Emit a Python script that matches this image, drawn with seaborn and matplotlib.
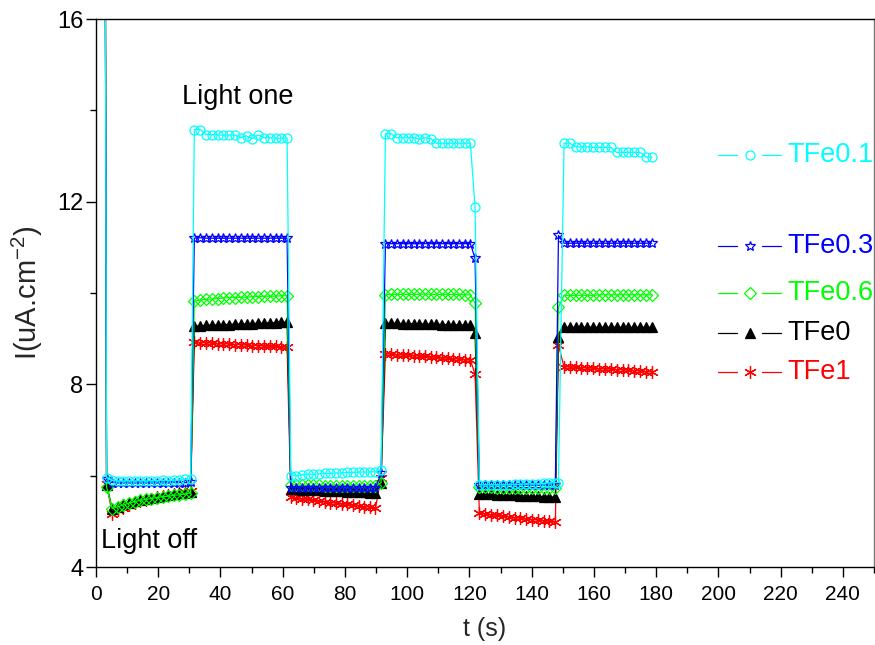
import numpy as np
import pandas as pd
import matplotlib
matplotlib.use("Agg")
import matplotlib.pyplot as plt
from matplotlib.ticker import MultipleLocator
import seaborn as sns

# Sampling times (s): initial transient, off / on / off / on / off / on cycles
t = [2.9,
     3.4, 5.2, 7.0, 8.8, 10.6, 12.4, 14.2, 16.0, 17.8, 19.6, 21.4, 23.2, 25.0, 26.8, 28.6, 30.4,
     31.6, 33.5, 35.3, 37.2, 39.1, 40.9, 42.8, 44.6, 46.5, 48.4, 50.2, 52.1, 53.9, 55.8, 57.7, 59.5, 61.4,
     62.6, 64.4, 66.2, 68.0, 69.8, 71.6, 73.5, 75.3, 77.1, 78.9, 80.7, 82.5, 84.4, 86.2, 88.0, 89.8, 91.6,
     93.0, 94.8, 96.6, 98.5, 100.3, 102.1, 103.9, 105.7, 107.6, 109.4, 111.2, 113.0, 114.8, 116.7, 118.5, 120.3,
     121.8,
     123.2, 125.1, 127.0, 128.8, 130.7, 132.6, 134.5, 136.3, 138.2, 140.1, 141.9, 143.8, 145.7, 147.6,
     148.6,
     150.4, 152.3, 154.2, 156.0, 157.9, 159.8, 161.7, 163.6, 165.4, 167.3, 169.2, 171.0, 172.9, 174.8, 176.7, 178.6]

# Photocurrent density (uA/cm2) for each sample
tfe01 = [20.0,
         5.95, 5.90, 5.88, 5.88, 5.89, 5.88, 5.89, 5.88, 5.89, 5.89, 5.90, 5.89, 5.90, 5.91, 5.92, 5.93,
         13.58, 13.58, 13.47, 13.47, 13.46, 13.46, 13.46, 13.46, 13.40, 13.44, 13.38, 13.46, 13.40, 13.40, 13.39, 13.39, 13.39,
         6.00, 6.00, 6.02, 6.03, 6.03, 6.04, 6.05, 6.05, 6.06, 6.06, 6.07, 6.07, 6.08, 6.08, 6.08, 6.09, 6.12,
         13.49, 13.49, 13.40, 13.40, 13.40, 13.40, 13.37, 13.40, 13.38, 13.28, 13.28, 13.28, 13.28, 13.28, 13.28, 13.28,
         11.88,
         5.80, 5.80, 5.80, 5.80, 5.80, 5.80, 5.81, 5.81, 5.82, 5.82, 5.82, 5.83, 5.84, 5.85,
         5.85,
         13.28, 13.28, 13.20, 13.20, 13.20, 13.19, 13.19, 13.19, 13.19, 13.08, 13.08, 13.08, 13.08, 13.08, 12.98, 12.97]

tfe03 = [20.0,
         5.92, 5.85, 5.84, 5.84, 5.84, 5.84, 5.84, 5.84, 5.84, 5.84, 5.84, 5.84, 5.85, 5.85, 5.85, 5.86,
         11.20, 11.21, 11.20, 11.20, 11.20, 11.20, 11.20, 11.20, 11.20, 11.20, 11.20, 11.20, 11.20, 11.20, 11.20, 11.20, 11.20,
         5.73, 5.73, 5.73, 5.73, 5.73, 5.73, 5.73, 5.73, 5.73, 5.73, 5.73, 5.73, 5.73, 5.73, 5.73, 5.73, 6.05,
         11.08, 11.08, 11.08, 11.08, 11.08, 11.08, 11.08, 11.08, 11.08, 11.08, 11.08, 11.08, 11.08, 11.08, 11.08, 11.08,
         10.76,
         5.79, 5.79, 5.79, 5.79, 5.79, 5.79, 5.79, 5.79, 5.79, 5.79, 5.79, 5.79, 5.79, 5.79,
         11.26,
         11.09, 11.09, 11.09, 11.09, 11.09, 11.09, 11.09, 11.09, 11.09, 11.09, 11.09, 11.09, 11.09, 11.09, 11.09, 11.09]

tfe06 = [20.0,
         5.75, 5.28, 5.32, 5.36, 5.40, 5.43, 5.46, 5.48, 5.50, 5.52, 5.54, 5.55, 5.57, 5.58, 5.60, 5.62,
         9.82, 9.85, 9.86, 9.87, 9.88, 9.89, 9.90, 9.90, 9.91, 9.91, 9.92, 9.92, 9.93, 9.93, 9.93, 9.94, 9.94,
         5.80, 5.80, 5.79, 5.79, 5.79, 5.79, 5.78, 5.78, 5.78, 5.78, 5.78, 5.77, 5.77, 5.77, 5.77, 5.77, 5.85,
         9.96, 9.97, 9.97, 9.97, 9.97, 9.97, 9.97, 9.98, 9.97, 9.97, 9.97, 9.97, 9.97, 9.97, 9.96, 9.96,
         9.78,
         5.75, 5.75, 5.75, 5.74, 5.74, 5.74, 5.74, 5.74, 5.74, 5.74, 5.74, 5.74, 5.74, 5.74,
         9.69,
         9.95, 9.95, 9.95, 9.95, 9.95, 9.95, 9.96, 9.96, 9.96, 9.96, 9.96, 9.96, 9.96, 9.96, 9.96, 9.96]

tfe0 = [20.0,
        5.80, 5.28, 5.32, 5.37, 5.41, 5.44, 5.47, 5.50, 5.52, 5.54, 5.56, 5.58, 5.59, 5.61, 5.62, 5.64,
        9.27, 9.28, 9.29, 9.30, 9.30, 9.31, 9.31, 9.32, 9.32, 9.33, 9.33, 9.34, 9.34, 9.35, 9.35, 9.36, 9.36,
        5.70, 5.70, 5.69, 5.69, 5.68, 5.68, 5.67, 5.67, 5.66, 5.66, 5.65, 5.65, 5.64, 5.64, 5.63, 5.63, 5.84,
        9.34, 9.34, 9.34, 9.33, 9.33, 9.33, 9.33, 9.32, 9.32, 9.32, 9.31, 9.31, 9.31, 9.30, 9.30, 9.30,
        9.12,
        5.60, 5.59, 5.59, 5.58, 5.58, 5.57, 5.57, 5.56, 5.56, 5.55, 5.55, 5.54, 5.54, 5.53,
        9.03,
        9.25, 9.25, 9.25, 9.25, 9.25, 9.25, 9.25, 9.25, 9.25, 9.25, 9.25, 9.25, 9.25, 9.25, 9.25, 9.25]

tfe1 = [20.0,
        5.82, 5.17, 5.25, 5.30, 5.35, 5.40, 5.44, 5.47, 5.50, 5.53, 5.55, 5.58, 5.60, 5.62, 5.64, 5.66,
        8.92, 8.91, 8.91, 8.90, 8.89, 8.89, 8.88, 8.87, 8.87, 8.86, 8.85, 8.85, 8.84, 8.83, 8.83, 8.82, 8.81,
        5.53, 5.51, 5.49, 5.48, 5.46, 5.44, 5.43, 5.41, 5.40, 5.38, 5.37, 5.35, 5.34, 5.32, 5.31, 5.29, 5.95,
        8.67, 8.66, 8.65, 8.64, 8.64, 8.63, 8.62, 8.61, 8.60, 8.59, 8.58, 8.57, 8.56, 8.55, 8.54, 8.53,
        8.22,
        5.18, 5.16, 5.14, 5.13, 5.11, 5.10, 5.08, 5.07, 5.05, 5.04, 5.03, 5.01, 5.00, 4.98,
        8.86,
        8.38, 8.38, 8.37, 8.36, 8.36, 8.35, 8.34, 8.34, 8.33, 8.32, 8.32, 8.31, 8.30, 8.29, 8.28, 8.27]

series_names = ["TFe1", "TFe0", "TFe0.6", "TFe0.3", "TFe0.1"]
series_values = [tfe1, tfe0, tfe06, tfe03, tfe01]

colors = {"TFe0.1": "#00FFFF", "TFe0.3": "#0000FF", "TFe0.6": "#00FF00",
          "TFe0": "#000000", "TFe1": "#FF0000"}
markers = {"TFe0.1": "o", "TFe0.3": "*", "TFe0.6": "D",
           "TFe0": "^", "TFe1": (6, 2, 0)}
msizes = {"TFe0.1": 6.5, "TFe0.3": 7.5, "TFe0.6": 5.8, "TFe0": 6.5, "TFe1": 9.0}
filled = {"TFe0.1": False, "TFe0.3": False, "TFe0.6": False, "TFe0": True, "TFe1": True}

df = pd.concat([pd.DataFrame({"t": t, "I": v, "sample": n})
                for n, v in zip(series_names, series_values)], ignore_index=True)

sns.set_theme(style="ticks")
plt.rcParams["font.family"] = ["Liberation Sans", "DejaVu Sans"]
plt.rcParams["mathtext.default"] = "regular"

fig = plt.figure(figsize=(8.75, 6.45), dpi=100)
ax = fig.add_axes([0.1097, 0.1209, 0.8892, 0.8496])

for name in series_names:
    sub = df[df["sample"] == name]
    c = colors[name]
    sns.lineplot(data=sub, x="t", y="I", ax=ax, color=c, linewidth=0.9,
                 marker=markers[name], markersize=msizes[name],
                 markerfacecolor=c if filled[name] else "none",
                 markeredgecolor=c, markeredgewidth=0.9,
                 sort=False, estimator=None, legend=False)

ax.set_xlim(0, 250)
ax.set_ylim(4, 16)
ax.xaxis.set_major_locator(MultipleLocator(20))
ax.xaxis.set_minor_locator(MultipleLocator(10))
ax.yaxis.set_major_locator(MultipleLocator(4))
ax.yaxis.set_minor_locator(MultipleLocator(2))
ax.tick_params(which="major", direction="out", length=7, width=1, colors="black")
ax.tick_params(which="minor", direction="out", length=4, width=1, colors="black")
ax.tick_params(axis="x", which="major", labelsize=15, pad=6)
ax.tick_params(axis="y", which="major", labelsize=17, pad=2)
for side in ["left", "bottom", "top"]:
    ax.spines[side].set_color("black")
    ax.spines[side].set_linewidth(1)
ax.spines["right"].set_color("#777777")
ax.spines["right"].set_linewidth(1)

ax.set_xlabel("t (s)", fontsize=18, labelpad=9)
ax.set_ylabel("I(uA.cm$^{-2}$)", fontsize=21)
ax.yaxis.set_label_coords(-0.066, 0.5)

ax.text(27.6, 14.15, "Light one", fontsize=19.5, color="black", va="baseline")
ax.text(1.6, 4.42, "Light off", fontsize=19.5, color="black", va="baseline")

# Hand-placed key: dash, marker, dash, then the sample name in its colour
key_rows = {"TFe0.1": 13.02, "TFe0.3": 11.02, "TFe0.6": 9.99, "TFe0": 9.12, "TFe1": 8.27}
for name, yk in key_rows.items():
    c = colors[name]
    ax.plot([200, 206], [yk, yk], color=c, lw=0.9)
    ax.plot([214, 220], [yk, yk], color=c, lw=0.9)
    ax.plot([210], [yk], linestyle="none", marker=markers[name], markersize=msizes[name],
            markerfacecolor=c if filled[name] else "none", markeredgecolor=c,
            markeredgewidth=0.9)
    ax.text(222, yk, name, color=c, fontsize=19.5, va="center", ha="left")

fig.savefig("out.png", dpi=100)
